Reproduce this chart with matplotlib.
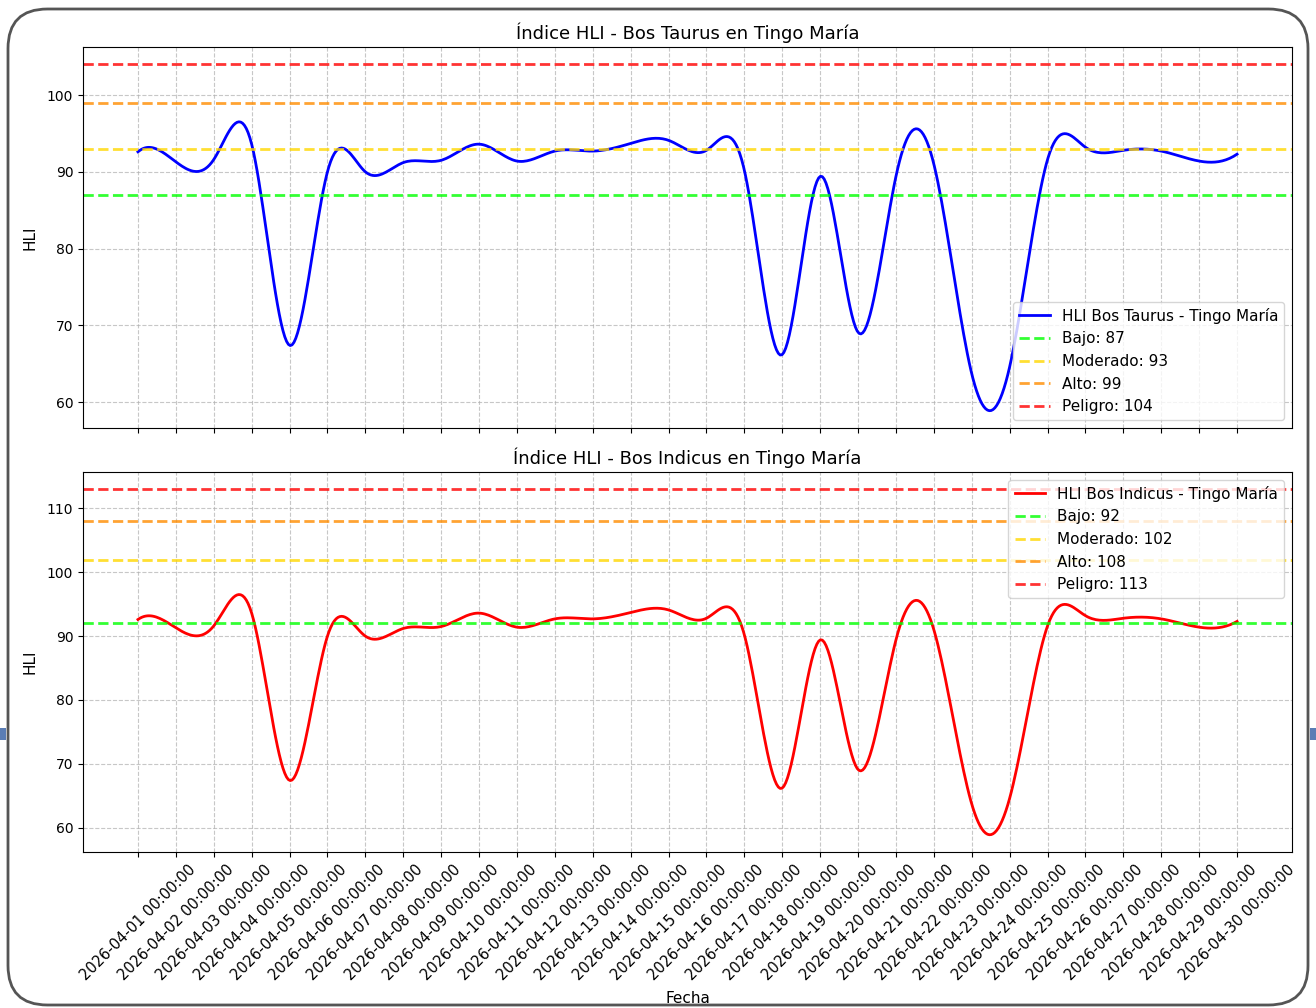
import numpy as np
import matplotlib
matplotlib.use("Agg")
import matplotlib.pyplot as plt
import matplotlib.dates as mdates
from matplotlib.patches import FancyBboxPatch, Rectangle
import datetime as dt

# ---------------- data ----------------
dates = [dt.datetime(2026, 4, d) for d in range(1, 31)]
hli_taurus = [92.6, 91.3, 91.6, 93.6, 67.4, 90.0, 90.0, 91.2, 91.5, 93.6,
              91.4, 92.7, 92.7, 93.7, 94.1, 92.8, 90.2, 66.2, 89.4, 69.1,
              89.4, 91.0, 63.7, 64.6, 91.6, 93.2, 92.8, 92.7, 91.4, 92.3]
hli_indicus = list(hli_taurus)

thr_names = ["Bajo", "Moderado", "Alto", "Peligro"]
taurus_thr_vals = [87, 93, 99, 104]
indicus_thr_vals = [92, 102, 108, 113]
thr_colors = ["lime", "gold", "darkorange", "red"]


def spline_not_a_knot(x, y, xs):
    x = np.asarray(x, float)
    y = np.asarray(y, float)
    n = len(x)
    h = np.diff(x)
    A = np.zeros((n, n))
    b = np.zeros(n)
    A[0, 0] = h[1]; A[0, 1] = -(h[0] + h[1]); A[0, 2] = h[0]
    A[-1, -3] = h[-1]; A[-1, -2] = -(h[-2] + h[-1]); A[-1, -1] = h[-2]
    for i in range(1, n - 1):
        A[i, i - 1] = h[i - 1]
        A[i, i] = 2 * (h[i - 1] + h[i])
        A[i, i + 1] = h[i]
        b[i] = 6 * ((y[i + 1] - y[i]) / h[i] - (y[i] - y[i - 1]) / h[i - 1])
    M = np.linalg.solve(A, b)
    idx = np.clip(np.searchsorted(x, xs) - 1, 0, n - 2)
    x0, x1 = x[idx], x[idx + 1]
    hh = x1 - x0
    y0, y1 = y[idx], y[idx + 1]
    M0, M1 = M[idx], M[idx + 1]
    return (M0 * (x1 - xs) ** 3 / (6 * hh) + M1 * (xs - x0) ** 3 / (6 * hh)
            + (y0 / hh - M0 * hh / 6) * (x1 - xs) + (y1 / hh - M1 * hh / 6) * (xs - x0))


xnum = mdates.date2num(dates)
xs = np.linspace(xnum[0], xnum[-1], 600)

W, H = 1316, 1008
fig = plt.figure(figsize=(W / 100, H / 100), dpi=100)

# screenshot frame
fig.patches.append(Rectangle((0, 1 - 740 / H), 6 / W, 12 / H, transform=fig.transFigure,
                             facecolor="#5a7db5", edgecolor="none", zorder=-5))
fig.patches.append(Rectangle((1310 / W, 1 - 740 / H), 6 / W, 12 / H, transform=fig.transFigure,
                             facecolor="#5a7db5", edgecolor="none", zorder=-5))
fig.patches.append(FancyBboxPatch((8 / W, 3 / H), 1300 / W, 996 / H,
                                  boxstyle="round,pad=0,rounding_size=0.03",
                                  transform=fig.transFigure, facecolor="white",
                                  edgecolor="#555555", linewidth=2, zorder=-4,
                                  mutation_aspect=W / H))

ax1 = fig.add_axes([83 / W, 1 - 428 / H, (1292 - 83) / W, 381 / H])
ax2 = fig.add_axes([83 / W, 1 - 852 / H, (1292 - 83) / W, 380 / H], sharex=ax1)

for ax, vals, thr, lab, col, title in [
        (ax1, hli_taurus, taurus_thr_vals, "HLI Bos Taurus - Tingo María", "blue",
         "Índice HLI - Bos Taurus en Tingo María"),
        (ax2, hli_indicus, indicus_thr_vals, "HLI Bos Indicus - Tingo María", "red",
         "Índice HLI - Bos Indicus en Tingo María")]:
    ys = spline_not_a_knot(xnum, vals, xs)
    ax.plot(xs, ys, color=col, linewidth=2, label=lab)
    for name, v, c in zip(thr_names, thr, thr_colors):
        ax.axhline(v, color=c, linestyle="--", linewidth=2, alpha=0.8, label=f"{name}: {v}")
    ax.set_title(title, fontsize=13)
    ax.set_ylabel("HLI", fontsize=11, labelpad=7)
    ax.grid(True, linestyle="--", alpha=0.7)

ax1.legend(loc="lower right", fontsize=11)
ax2.legend(loc="upper right", fontsize=11)
ax2.set_xlabel("Fecha", fontsize=11, labelpad=6)
ax2.set_xticks(xnum)
ax2.set_xticklabels([d.strftime("%Y-%m-%d %H:%M:%S") for d in dates], rotation=45,
                    fontsize=10.5)
plt.setp(ax1.get_xticklabels(), visible=False)

fig.savefig("out.png", dpi=100)
